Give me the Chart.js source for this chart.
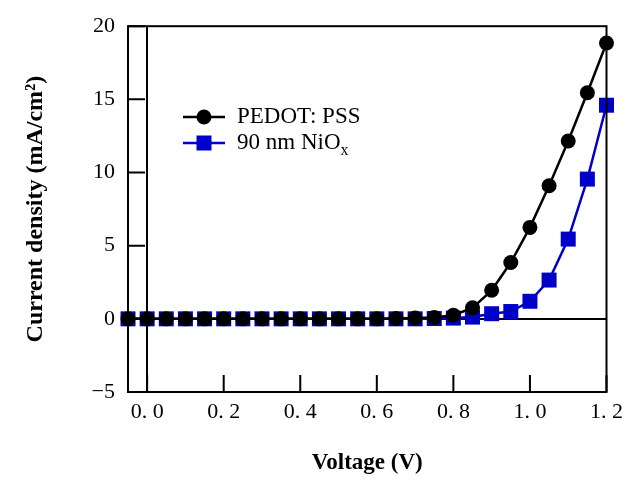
<!DOCTYPE html>
<html>
<head>
<meta charset="utf-8">
<script src="https://cdn.jsdelivr.net/npm/chart.js@4.4.1/dist/chart.umd.min.js"></script>
<style>
html, body { margin: 0; padding: 0; background: #fff; }
#wrap { width: 630px; height: 482px; }
</style>
</head>
<body>
<div id="wrap"><canvas id="jvChart" width="630" height="482"></canvas></div>
<script>
const voltage = [-0.05, 0, 0.05, 0.1, 0.15, 0.2, 0.25, 0.3, 0.35, 0.4, 0.45, 0.5, 0.55,
    0.6, 0.65, 0.7, 0.75, 0.8, 0.85, 0.9, 0.95, 1.0, 1.05, 1.1, 1.15, 1.2];
const pedotPss = [0, 0, 0, 0, 0, 0, 0, 0, 0, 0, 0, 0, 0, 0, 0.02, 0.05, 0.1, 0.25,
    0.75, 1.95, 3.85, 6.25, 9.1, 12.15, 15.45, 18.85];
const nio90 = [0, 0, 0, 0, 0, 0, 0, 0, 0, 0, 0, 0, 0, 0, 0, 0, 0.02, 0.05,
    0.12, 0.35, 0.5, 1.2, 2.65, 5.45, 9.55, 14.6];
const xTicks = [0, 0.2, 0.4, 0.6, 0.8, 1.0, 1.2];
const xTickLabels = ['0. 0', '0. 2', '0. 4', '0. 6', '0. 8', '1. 0', '1. 2'];
const yTicks = [-5, 0, 5, 10, 15, 20];
const seriesNames = ['PEDOT: PSS', '90 nm NiO'];

const serif = '"Liberation Serif", "Times New Roman", serif';
const blue = '#0000c8';

function toPoints(ys) {
    return voltage.map((v, i) => ({ x: v, y: ys[i] }));
}

// frame, inward ticks and the in-plot legend
const framePlugin = {
    id: 'framePlugin',
    afterDatasetsDraw(chart) {
        const ctx = chart.ctx;
        const a = chart.chartArea;
        const xs = chart.scales.x;
        const ys = chart.scales.y;
        ctx.save();
        ctx.strokeStyle = '#000';
        ctx.lineWidth = 2;
        ctx.strokeRect(a.left, a.top, a.right - a.left, a.bottom - a.top);
        ctx.beginPath();
        xTicks.forEach(v => {
            const px = xs.getPixelForValue(v);
            ctx.moveTo(px, a.bottom);
            ctx.lineTo(px, a.bottom - 17);
        });
        yTicks.forEach(v => {
            const py = ys.getPixelForValue(v);
            ctx.moveTo(a.left, py);
            ctx.lineTo(a.left + 17, py);
        });
        ctx.stroke();

        // legend
        const lx = 183, ly = [117, 143];
        chart.data.datasets.forEach((ds, i) => {
            const y = ly[i];
            ctx.strokeStyle = ds.borderColor;
            ctx.lineWidth = 2.5;
            ctx.beginPath();
            ctx.moveTo(lx, y);
            ctx.lineTo(lx + 42, y);
            ctx.stroke();
            ctx.fillStyle = ds.backgroundColor;
            if (ds.pointStyle === 'circle') {
                ctx.beginPath();
                ctx.arc(lx + 21, y, 7.5, 0, Math.PI * 2);
                ctx.fill();
            } else {
                ctx.fillRect(lx + 21 - 7.5, y - 7.5, 15, 15);
            }
            ctx.fillStyle = '#000';
            ctx.font = '23px ' + serif;
            ctx.textBaseline = 'middle';
            ctx.textAlign = 'left';
            ctx.fillText(seriesNames[i], lx + 54, y);
            if (i === 1) {
                const w = ctx.measureText(seriesNames[i]).width;
                ctx.font = '16px ' + serif;
                ctx.fillText('x', lx + 54 + w, y + 8);
            }
        });
        ctx.restore();
    }
};

new Chart(document.getElementById('jvChart'), {
    type: 'line',
    data: {
        datasets: [{
            label: seriesNames[0],
            data: toPoints(pedotPss),
            borderColor: '#000',
            backgroundColor: '#000',
            borderWidth: 2.5,
            pointStyle: 'circle',
            pointRadius: 7.5,
            pointBorderWidth: 0,
            clip: false
        }, {
            label: seriesNames[1],
            data: toPoints(nio90),
            borderColor: blue,
            backgroundColor: blue,
            borderWidth: 2.5,
            pointStyle: 'rect',
            pointRadius: 10.6,
            pointBorderWidth: 0,
            clip: false
        }]
    },
    options: {
        responsive: false,
        animation: false,
        layout: { padding: { left: 0, right: 23, top: 23, bottom: 0 } },
        plugins: {
            legend: { display: false },
            tooltip: { enabled: false }
        },
        scales: {
            x: {
                type: 'linear',
                min: -0.05,
                max: 1.2,
                afterBuildTicks: s => { s.ticks = xTicks.map(v => ({ value: v })); },
                afterFit: s => { s.height = 90; },
                grid: {
                    drawTicks: false,
                    lineWidth: 2,
                    color: c => (c.tick && c.tick.value === 0 ? '#000' : 'rgba(0,0,0,0)')
                },
                border: { display: false },
                ticks: {
                    padding: 7,
                    color: '#000',
                    font: { family: serif, size: 22 },
                    callback: (v) => xTickLabels[xTicks.indexOf(v)] ?? ''
                },
                title: {
                    display: true,
                    text: 'Voltage (V)',
                    color: '#000',
                    font: { family: serif, size: 23, weight: 'bold' },
                    padding: 5
                }
            },
            y: {
                min: -5,
                max: 20,
                afterBuildTicks: s => { s.ticks = yTicks.map(v => ({ value: v })); },
                afterFit: s => { s.width = 128; },
                grid: {
                    drawTicks: false,
                    lineWidth: 2,
                    color: c => (c.tick && c.tick.value === 0 ? '#000' : 'rgba(0,0,0,0)')
                },
                border: { display: false },
                ticks: {
                    padding: 13,
                    color: '#000',
                    font: { family: serif, size: 22 },
                    callback: v => (v < 0 ? '\u2212' + Math.abs(v) : String(v))
                },
                title: {
                    display: true,
                    text: 'Current density (mA/cm\u00b2)',
                    color: '#000',
                    font: { family: serif, size: 24, weight: 'bold' },
                    padding: 21
                }
            }
        }
    },
    plugins: [framePlugin]
});
</script>
</body>
</html>
